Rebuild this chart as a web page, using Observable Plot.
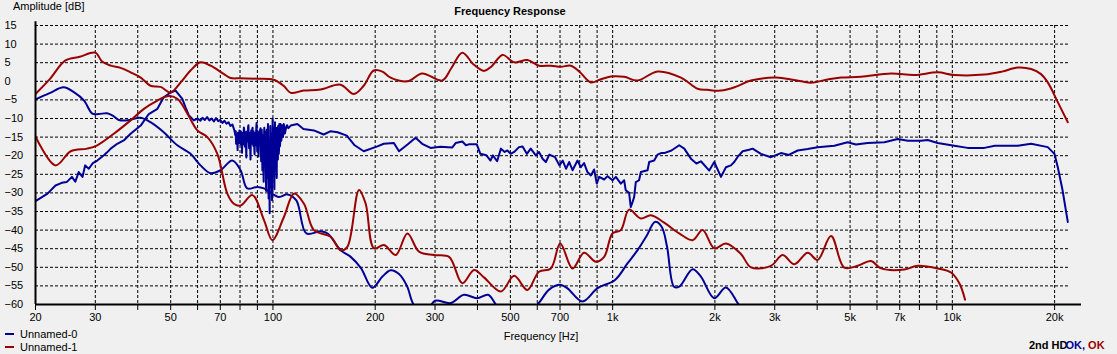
<!DOCTYPE html>
<html>
<head>
<meta charset="utf-8">
<script src="https://cdn.jsdelivr.net/npm/d3@7"></script>
<script src="https://cdn.jsdelivr.net/npm/@observablehq/plot@0.6"></script>
<style>
  html, body { margin: 0; padding: 0; background: #f0f0f0; }
  #wrap { position: relative; width: 1117px; height: 354px; background: #f0f0f0; overflow: hidden;
          font-family: "Liberation Sans", Arial, sans-serif; font-size: 11px; color: #000; }
  .abs { position: absolute; white-space: nowrap; line-height: 1; }
  .sw { position: absolute; width: 9px; height: 2px; }
</style>
</head>
<body>
<div id="wrap"></div>
<script>
// ---------- data (frequency in Hz, amplitude in dB) ----------
const seriesNames = ["Unnamed-0", "Unnamed-1"];
const seriesColors = ["#000096", "#990000"];

const yTicks = [-60, -55, -50, -45, -40, -35, -30, -25, -20, -15, -10, -5, 0, 5, 10, 15];
const xGridTicks = [30, 40, 50, 60, 70, 80, 90, 100, 200, 300, 400, 500, 600, 700, 800, 900,
                    1000, 2000, 3000, 4000, 5000, 6000, 7000, 8000, 9000, 10000, 20000];
const xTickValues = [20, 30, 40, 50, 60, 70, 80, 90, 100, 200, 300, 400, 500, 600, 700, 800, 900,
                     1000, 2000, 3000, 4000, 5000, 6000, 7000, 8000, 9000, 10000, 20000];
const xTickLabels = {20: "20", 30: "30", 50: "50", 70: "70", 100: "100", 200: "200", 300: "300",
                     500: "500", 700: "700", 1000: "1k", 2000: "2k", 3000: "3k", 5000: "5k",
                     7000: "7k", 10000: "10k", 20000: "20k"};

// Unnamed-0 fundamental (blue, noisy)
const u0Main = [
  [20,-32.2],[21,-31],[21.7,-30.2],[22.9,-28.0],[23.9,-27.3],[24.7,-27.1],[25.6,-25.7],[26.2,-27.0],
  [26.8,-24.4],[27.5,-25.7],[28.0,-22.6],[28.7,-23.5],[29.5,-22.0],[30.4,-21.3],[31.8,-19.9],[32.5,-19.1],
  [33.3,-18.1],[34.8,-16.8],[36.5,-15.8],[38.1,-14.1],[40.8,-11.9],[43.1,-8.8],[45.7,-7.4],[47.7,-4.3],
  [50.0,-3.0],[51.7,-2.5],[54.1,-4.7],[55.3,-7.0],[56.6,-9.2],[58.5,-10.5],[60,-10.0],[61.2,-10.6],
  [62,-9.8],[63,-10.4],[64,-9.6],[65,-10.5],[66,-10.0],[67,-10.8],[68,-9.9],[69,-10.7],[70,-10.4],
  [71,-11.2],[72,-10.6],[73,-11.4],[74,-11.0],[75,-12.0],[76,-11.6],[77,-13.2],
  [77.5,-14.5],[77.7,-13.4],[77.9,-16.8],[78.1,-15.0],[78.3,-14.2],[78.5,-16.0],[78.7,-18.5],[78.9,-13.8],
  [79.1,-14.0],[79.3,-16.6],[79.5,-15.5],[79.7,-13.2],[79.9,-13.6],[80.1,-15.9],[80.3,-17.0],[80.5,-13.5],
  [80.7,-14.4],[80.9,-16.4],[81.1,-19.2],[81.3,-14.8],[81.5,-13.8],[81.7,-17.0],[81.9,-15.8],[82.1,-12.4],
  [82.3,-12.9],[82.5,-15.6],[82.7,-17.6],[82.9,-13.6],[83.1,-14.1],[83.3,-17.2],[83.5,-20.5],[83.7,-14.6],
  [83.9,-13.5],[84.1,-15.2],[84.3,-16.2],[84.5,-12.2],[84.7,-11.8],[84.9,-16.0],[85.1,-18.0],[85.3,-13.8],
  [85.5,-14.6],[85.7,-17.4],[85.9,-21.0],[86.1,-15.0],[86.3,-13.2],[86.5,-16.8],[86.7,-15.9],[86.9,-12.8],
  [87.1,-12.5],[87.3,-15.0],[87.5,-17.3],[87.7,-13.4],[87.9,-14.8],[88.1,-17.8],[88.3,-19.6],[88.5,-14.4],
  [88.7,-13.9],[88.9,-17.2],[89.1,-16.5],[89.3,-12.6],[89.5,-11.2],[89.7,-15.4],[89.9,-18.8],[90.1,-15.0],
  [90.3,-14.0],[90.5,-17.6],[90.7,-20.2],[90.9,-14.6],[91.1,-13.4],[91.3,-16.0],[91.5,-17.1],[91.7,-13.0],
  [91.9,-12.6],[92.1,-17.5],
  [92.3,-21.5],[92.5,-15.5],[92.7,-13.0],[92.9,-19.0],[93.1,-24.0],[93.3,-16.0],[93.5,-14.5],[93.7,-22.0],
  [93.9,-27.0],[94.1,-15.5],[94.3,-12.5],[94.5,-19.5],[94.7,-22.5],[94.9,-13.5],[95.1,-15.0],[95.3,-24.5],
  [95.5,-29.5],[95.7,-17.0],[95.9,-13.0],[96.1,-21.0],[96.3,-26.0],[96.5,-14.0],[96.7,-11.5],[96.9,-23.0],
  [97.1,-31.5],[97.3,-18.0],[97.5,-16.0],[97.65,-27.0],[97.8,-35.5],[98.0,-20.0],[98.2,-12.0],[98.4,-22.0],
  [98.6,-28.5],[98.8,-16.5],[99.0,-14.0],[99.2,-25.0],[99.4,-32.0],[99.6,-15.0],[99.8,-10.0],[100.0,-20.0],
  [100.2,-25.0],[100.4,-12.5],[100.6,-13.5],[100.8,-24.0],[101.0,-29.0],[101.2,-15.0],[101.4,-11.0],[101.6,-20.0],
  [101.8,-23.5],[102.0,-12.5],[102.2,-14.0],[102.4,-22.0],[102.6,-26.0],[102.8,-14.0],[103.0,-12.5],[103.2,-19.0],
  [103.4,-21.0],[103.6,-12.0],[103.8,-13.5],[104.0,-19.5],[104.2,-18.5],[104.4,-11.5],[104.6,-12.0],[104.8,-17.5],
  [105.0,-17.0],[105.3,-11.5],[105.5,-13.0],[105.8,-16.0],[106,-15.5],[106.3,-11.8],[106.6,-12.5],[107.0,-15.0],
  [107.3,-14.0],[107.6,-11.5],[108,-12.0],[108.5,-14.0],[109,-13.0],[110,-11.8],
  [111,-12.6],[112.8,-11.9],[118,-11.5],[123,-12.8],[132,-13.2],[141,-14.3],[148,-13.4],[155,-13.7],
  [165,-14.6],[174,-17.2],[185,-18.8],[203,-17.5],[212,-16.8],[227,-16.6],[235,-18.8],[249,-17.0],
  [263,-15.2],[275,-16.8],[291,-17.9],[311,-17.6],[337,-17.8],[345,-16.6],[361,-16.2],[370,-17.2],
  [379,-16.9],[398,-16.9],[408,-19.5],[425,-19.9],[437,-21.3],[444,-19.9],[457,-21.5],[469,-18.1],
  [481,-19.0],[490,-18.6],[501,-19.5],[513,-19.0],[530,-17.7],[543,-17.5],[559,-19.5],[574,-18.1],
  [594,-19.9],[607,-19.0],[622,-20.8],[636,-21.7],[651,-19.7],[677,-20.4],[697,-22.6],[713,-21.3],
  [729,-23.5],[745,-21.7],[762,-23.9],[788,-21.3],[806,-23.1],[824,-22.0],[843,-24.4],[863,-25.3],
  [882,-23.7],[898,-27.5],[913,-25.7],[944,-26.4],[966,-25.5],[999,-26.6],[1022,-25.7],[1057,-27.5],
  [1081,-26.6],[1093,-29.3],[1118,-30.0],[1131,-33.8],[1145,-32.4],[1157,-31.1],[1170,-27.1],[1196,-26.6],
  [1211,-24.4],[1267,-23.9],[1281,-21.7],[1325,-21.3],[1356,-19.7],[1388,-19.3],[1418,-19.3],[1490,-18.6],
  [1570,-17.2],[1625,-18.1],[1700,-20.8],[1764,-22.1],[1819,-21.5],[1925,-24.0],[1991,-21.7],[2084,-25.7],
  [2155,-23.1],[2229,-22.6],[2280,-21.7],[2330,-20.4],[2414,-18.8],[2520,-18.4],[2582,-18.1],[2732,-19.5],
  [2924,-20.4],[3130,-19.3],[3300,-19.8],[3505,-18.6],[3750,-18.2],[4014,-17.7],[4493,-17.3],[4918,-16.4],
  [5200,-17.0],[5635,-16.6],[6306,-16.4],[6905,-15.5],[7400,-16.0],[8089,-16.0],[8464,-15.8],[9056,-16.6],
  [10136,-17.3],[11086,-17.9],[12426,-17.9],[13340,-17.3],[15582,-17.3],[17054,-16.8],[19094,-17.7],
  [19980,-19.5],[20438,-23.1],[21110,-29.3],[21872,-37.8]
];

// Unnamed-0 2nd harmonic (blue)
const u0Harm = [
  [20,-4.9],[22,-3.2],[24.2,-1.6],[26.0,-3.0],[27.8,-5.2],[29.4,-8.7],[30.7,-8.8],[32.5,-8.6],[34.0,-9.4],
  [35.2,-10.4],[37.3,-10.5],[40.8,-9.8],[43.6,-11.0],[47.7,-13.7],[52.3,-17.2],[57.2,-19.5],[61.2,-22.6],
  [65.5,-24.7],[70.1,-23.9],[75.9,-21.3],[80.3,-23.9],[84.0,-28.8],[90.0,-28.4],[94.1,-28.8],[103.9,-31.1],
  [110.4,-30.4],[117.2,-32.0],[125.4,-40.9],[138.2,-40.3],[144.9,-40.9],[158.3,-45.4],[169.4,-47.2],
  [181.6,-50.2],[196,-55.5],[210,-52.5],[222,-50.8],[235,-51.8],[248,-55.0],[258,-59.6],[270,-62],
  [285,-61.5],[300,-59],[334,-59.6],[365,-57.4],[399,-58.3],[430,-57.4],[453,-60],[480,-63],[540,-63.5],
  [601,-60],[650,-56],[700,-54.7],[735,-55.6],[815,-59.2],[903,-55.6],[1016,-53.4],[1107,-48.9],
  [1184,-45.4],[1260,-41.5],[1332,-37.8],[1394,-39.1],[1446,-44.5],[1516,-55.2],[1570,-55.2],[1720,-50.5],
  [1819,-52.5],[1991,-58.3],[2155,-55.4],[2350,-60],[2500,-63]
];

// Unnamed-1 fundamental (red)
const u1Main = [
  [20,-3.4],[22,0.5],[24.5,5.6],[27,6.6],[30,7.7],[31.4,5.3],[33.3,4.2],[35.6,3.6],[38.1,2.4],[40.8,1.0],
  [43.6,-1.2],[46.7,-1.5],[50,-3.0],[53.5,-0.3],[57.2,2.9],[61.2,5.1],[65.5,4.2],[71.6,2.0],[75,0.9],
  [80,0.8],[90,0.7],[100.5,0.4],[107.5,-1.2],[112.8,-3.1],[123,-2.5],[138,-2.2],[158,-0.9],[173,-3.4],
  [185,-1.2],[198,2.9],[210,2.6],[222,1.0],[249,0.0],[275,2.1],[315,0.2],[335,3.5],[361,7.7],[390,4.5],
  [418,2.8],[440,4.0],[474,7.1],[513,5.1],[561,5.7],[607,4.2],[658,4.2],[704,3.9],[753,4.2],[800,2.5],
  [863,-0.3],[920,0.5],[988,1.3],[1081,1.2],[1184,0.2],[1356,2.65],[1589,1.0],[1778,-2.0],[1900,-2.3],
  [2084,-2.5],[2300,-1.5],[2553,0.2],[3024,1.0],[3584,0.0],[3836,-0.4],[4300,0.5],[4700,1.0],[5383,1.2],
  [6599,2.1],[7728,1.7],[9056,2.4],[10136,1.7],[12426,1.8],[14000,2.6],[15582,3.7],[17054,3.3],
  [18200,2.0],[19094,-0.3],[20438,-5.6],[21872,-11.0]
];

// Unnamed-1 2nd harmonic (red)
const u1Harm = [
  [20,-14.8],[22.9,-22.6],[25.4,-18.8],[28.4,-18.1],[30.4,-17.2],[34.0,-14.1],[38.1,-10.5],[41.7,-7.4],
  [45.7,-5.2],[48.9,-4.0],[52.3,-4.7],[56.0,-8.7],[59.9,-13.2],[64.1,-15.0],[68.6,-19.5],[73.4,-30.2],
  [76.7,-32.9],[80.3,-33.4],[87.0,-30.6],[94.1,-37.3],[99.6,-42.7],[107.8,-36.4],[115.3,-30.2],[123.4,-32.9],
  [132,-40.0],[147.9,-41.8],[158.3,-45.4],[165.6,-44.5],[179.2,-29.2],[187.5,-32.9],[198.4,-44.9],
  [212.3,-44.0],[229.9,-46.7],[248.8,-40.9],[269.2,-45.8],[298,-46.7],[330,-47.2],[361,-54.3],[391,-50.7],
  [418,-52.7],[469,-56.5],[513,-52.3],[561,-56.1],[607,-51.2],[658,-50.3],[701,-43.6],[762,-50.3],
  [824,-46.1],[892,-48.5],[944,-47.2],[999,-40.9],[1057,-40.0],[1118,-34.5],[1211,-36.9],[1296,-36.0],
  [1418,-38.0],[1570,-40.9],[1720,-42.7],[1840,-40.0],[1991,-44.9],[2155,-43.6],[2386,-46.4],[2553,-50.0],
  [2924,-49.6],[3165,-46.7],[3426,-49.2],[3750,-46.1],[4014,-48.0],[4394,-41.6],[4807,-50.1],[5265,-49.6],
  [5764,-48.3],[6167,-50.3],[7222,-50.6],[7908,-49.6],[9056,-50.3],[9912,-51.4],[10487,-54.3],[10900,-58.7]
];

// ---------- chart ----------
const lineOpts = (color, curve) => ({
  x: d => d[0], y: d => d[1], stroke: color, strokeWidth: 2,
  strokeLinejoin: "round", curve, clip: true
});

const chart = Plot.plot({
  width: 1117,
  height: 354,
  marginLeft: 35,
  marginRight: 36,
  marginTop: 25,
  marginBottom: 50,
  style: { background: "#f0f0f0", fontFamily: "Liberation Sans, Arial, sans-serif", fontSize: "11px", color: "#000" },
  x: { type: "log", domain: [20, 24000] },
  y: { domain: [-60, 15] },
  marks: [
    Plot.gridX({ ticks: xGridTicks, stroke: "#000", strokeOpacity: 1, strokeDasharray: "3,2" }),
    Plot.ruleY(yTicks.filter(v => v > -60), { x1: 20, x2: 22000, stroke: "#000", strokeDasharray: "3,2" }),
    Plot.line(u0Harm, lineOpts(seriesColors[0], "catmull-rom")),
    Plot.line(u0Main, lineOpts(seriesColors[0], "linear")),
    Plot.line(u1Harm, lineOpts(seriesColors[1], "catmull-rom")),
    Plot.line(u1Main, lineOpts(seriesColors[1], "catmull-rom")),
    Plot.ruleX([20], { y1: 16, y2: -60, stroke: "#000", strokeWidth: 2 }),
    Plot.ruleY([-60], { x1: 20, x2: 24000, stroke: "#000", strokeWidth: 2 }),
    Plot.axisX({ ticks: xTickValues, text: null, tickSize: 6, label: null, stroke: "#000" }),
    Plot.axisX({ ticks: Object.keys(xTickLabels).map(Number), text: d => xTickLabels[d], tickSize: 6, tickPadding: 3, label: null, stroke: "none" }),
    Plot.axisY({ ticks: yTicks, tickSize: 0, tickPadding: 0, textAnchor: "start", dx: -31, label: null })
  ]
});

const wrap = document.getElementById("wrap");
chart.style.position = "absolute";
chart.style.left = "0px";
chart.style.top = "0px";
wrap.appendChild(chart);

function addText(txt, css) {
  const d = document.createElement("div");
  d.className = "abs";
  d.textContent = txt;
  Object.assign(d.style, css);
  wrap.appendChild(d);
  return d;
}
addText("Amplitude [dB]", { left: "13px", top: "1px" });
addText("Frequency Response", { left: "510px", top: "6px", transform: "translateX(-50%)", fontWeight: "bold" });
addText("Frequency [Hz]", { left: "541px", top: "331px", transform: "translateX(-50%)" });

// legend
seriesNames.forEach((name, i) => {
  const sw = document.createElement("div");
  sw.className = "sw";
  sw.style.left = "5px";
  sw.style.top = (333 + i * 13) + "px";
  sw.style.background = seriesColors[i];
  wrap.appendChild(sw);
  addText(name, { left: "20px", top: (329 + i * 13) + "px" });
});

// status text
const st = document.createElement("div");
st.className = "abs";
st.style.left = "1029px";
st.style.top = "340px";
st.style.fontWeight = "bold";
st.innerHTML = '<span style="color:#000">2nd HD</span><span style="color:' + seriesColors[0] +
  ';margin-left:-2px">OK,</span><span style="color:' + seriesColors[1] + '"> OK</span>';
wrap.appendChild(st);
</script>
</body>
</html>
